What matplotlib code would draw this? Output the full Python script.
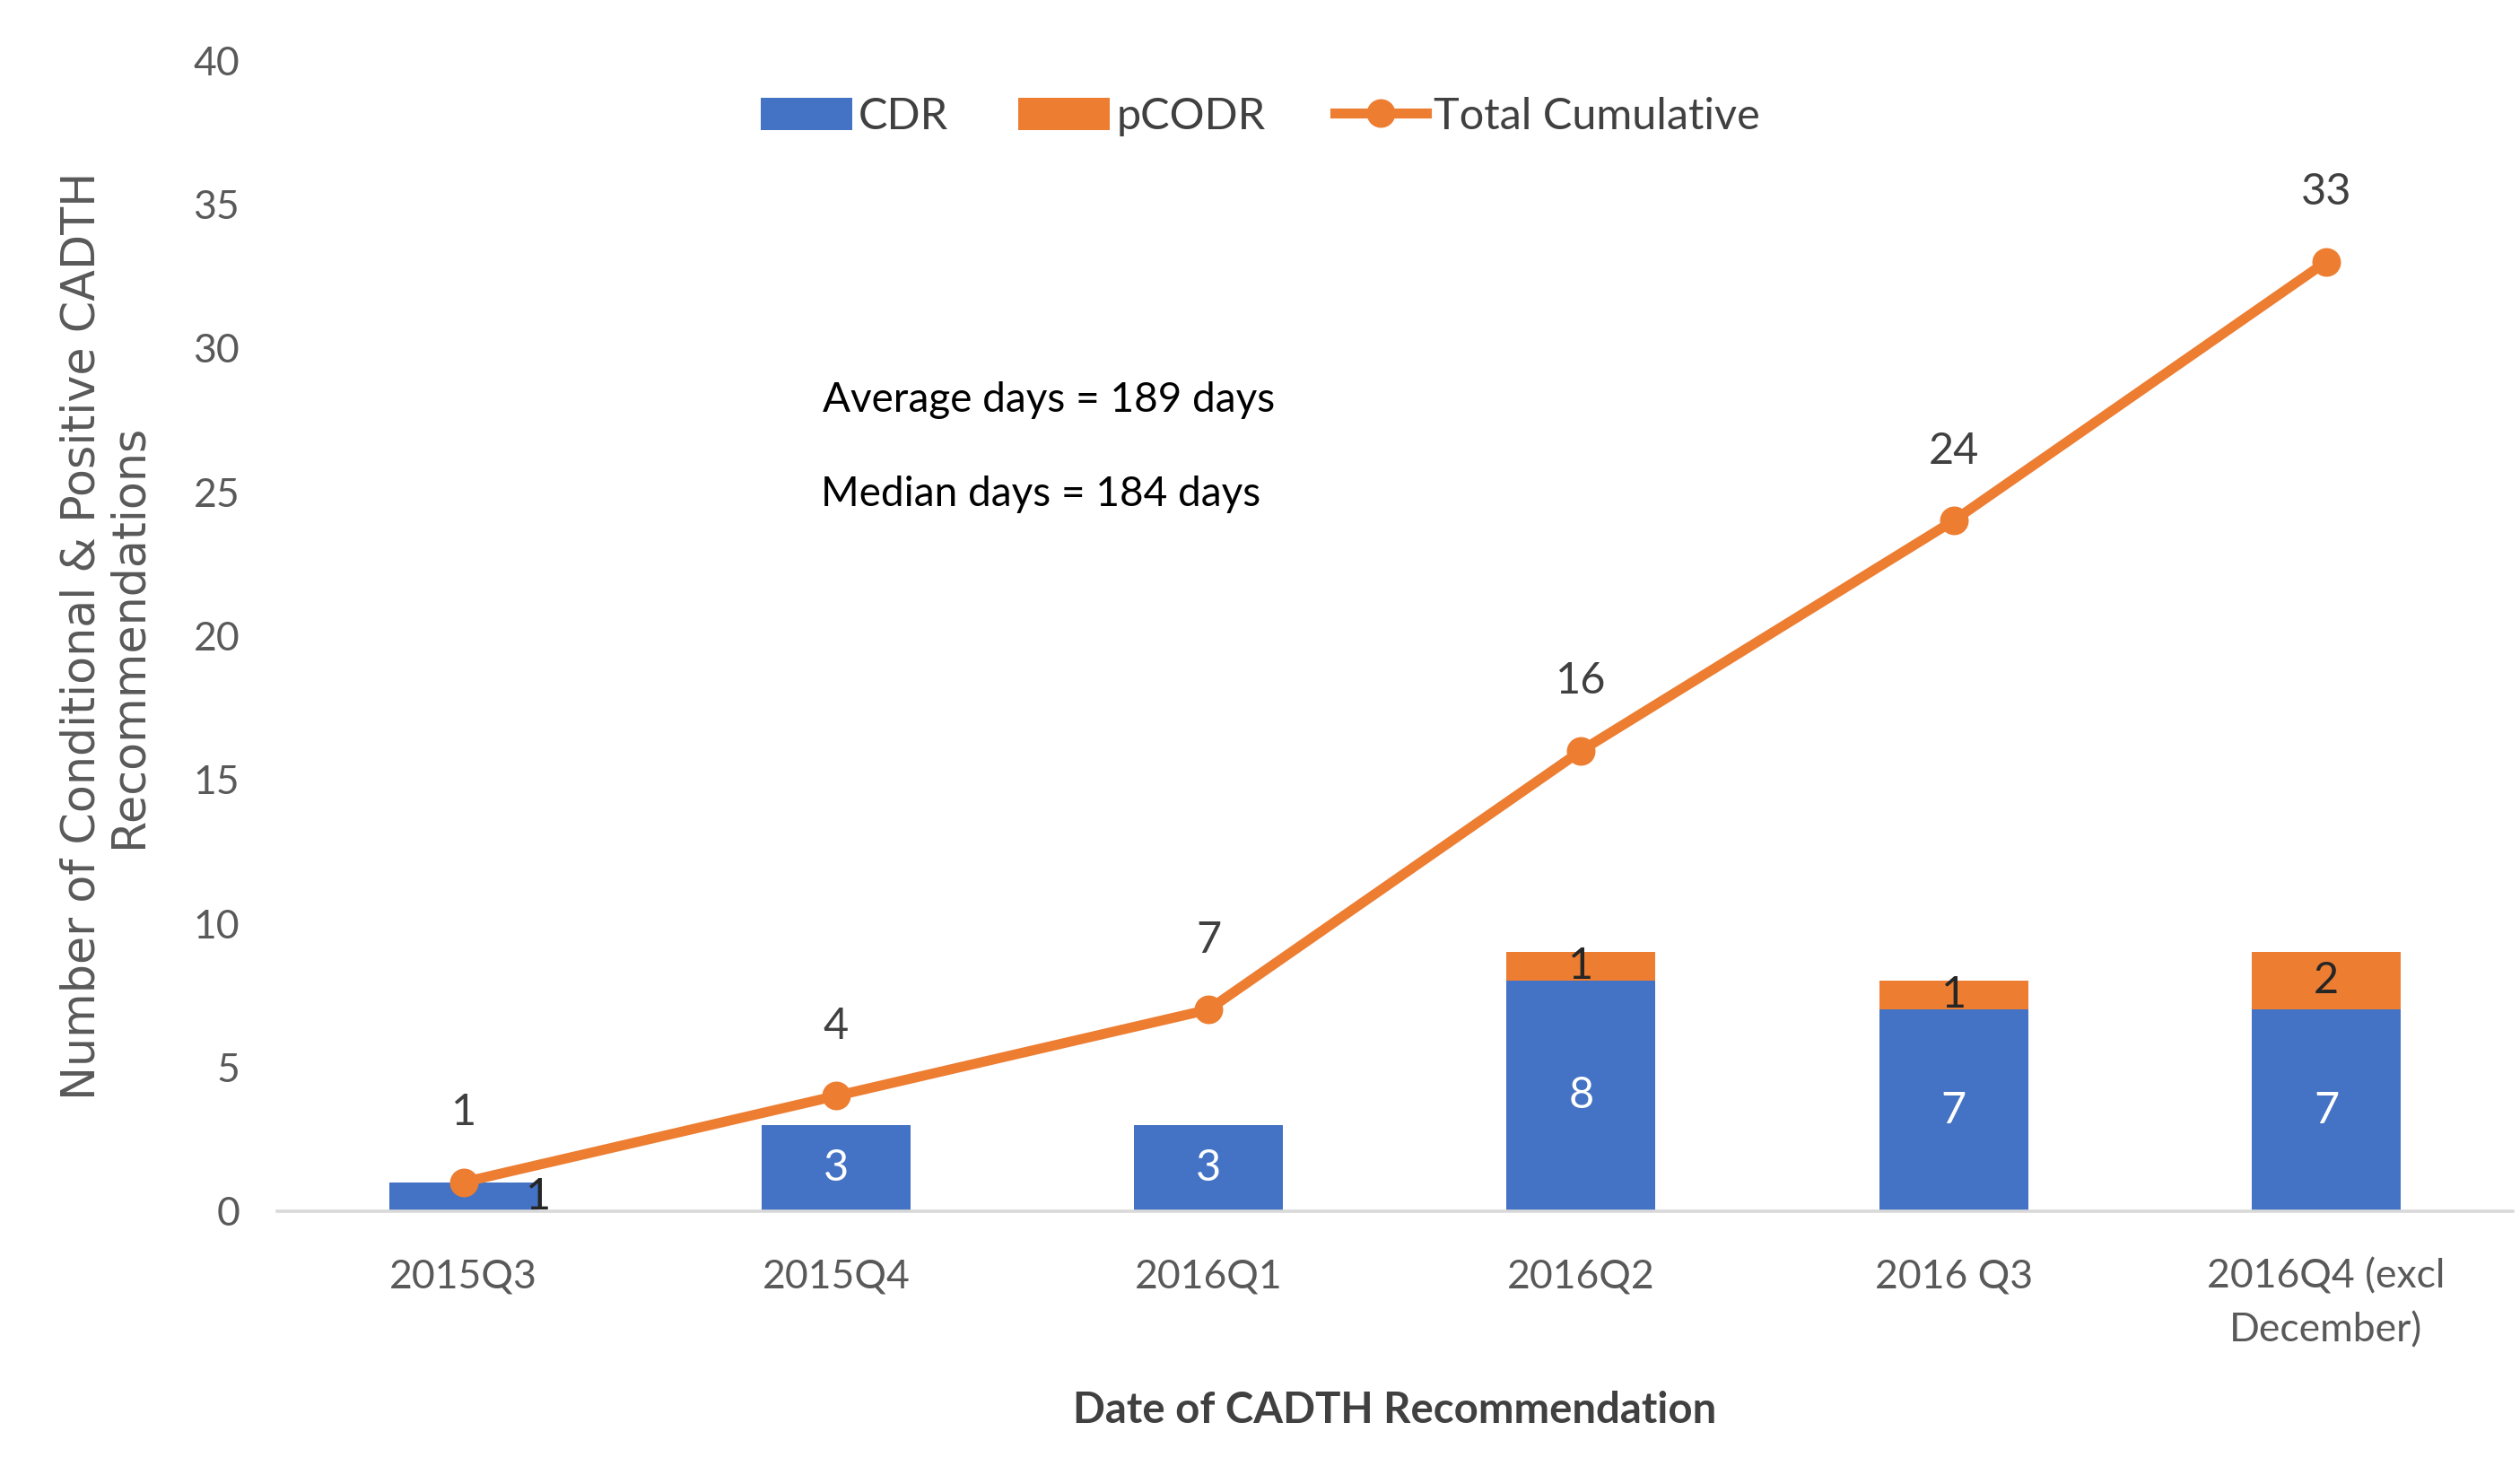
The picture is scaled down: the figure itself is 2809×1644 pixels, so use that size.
import numpy as np
import matplotlib.pyplot as plt

quarters = ['2015Q3', '2015Q4', '2016Q1', '2016Q2', '2016 Q3', '2016Q4 (excl\nDecember)']
cdr = [1, 3, 3, 8, 7, 7]
pcodr = [0, 0, 0, 1, 1, 2]
total_cum = [1, 4, 7, 16, 24, 33]

blue = '#4472C4'
orange = '#ED7D31'
grey = '#595959'
narrow = ['Lato', 'DejaVu Sans']

fig = plt.figure(figsize=(28.09, 16.44), dpi=100)
ax = fig.add_axes([0.110, 0.179, 0.887, 0.780])

x = np.arange(len(quarters))
w = 0.4
b1 = ax.bar(x, cdr, w, color=blue, label='CDR', zorder=2)
b2 = ax.bar(x, pcodr, w, bottom=cdr, color=orange, label='pCODR', zorder=2)
ln, = ax.plot(x, total_cum, color=orange, lw=8, marker='o', ms=22,
              label='Total Cumulative', zorder=3)

# bar labels
for i in range(len(x)):
    if i == 0:
        # this one sits at the bar's right edge in the original
        ax.text(x[i] + w / 2, cdr[i] / 2, str(cdr[i]), ha='center', va='center',
                fontsize=35, color='#262626', family=narrow, zorder=4)
    else:
        ax.text(x[i], cdr[i] / 2, str(cdr[i]), ha='center', va='center',
                fontsize=35, color='white', family=narrow, zorder=4)
    if pcodr[i] > 0:
        ax.text(x[i], cdr[i] + pcodr[i] / 2, str(pcodr[i]), ha='center', va='center',
                fontsize=35, color='#262626', family=narrow, zorder=4)

# line labels
for xi, v in zip(x, total_cum):
    ax.annotate(str(v), (xi, v), xytext=(0, 56), textcoords='offset points',
                ha='center', va='center', fontsize=35, color='#404040', family=narrow)

ax.text(1.57, 28.2, 'Average days = 189 days', ha='center', va='center',
        fontsize=33, color='black', family=narrow)
ax.text(1.55, 24.9, 'Median days = 184 days', ha='center', va='center',
        fontsize=33, color='black', family=narrow)

ax.set_xlim(-0.5, 5.5)
ax.set_ylim(0, 40)
ax.set_yticks(np.arange(0, 41, 5))
ax.set_xticks(x)
ax.set_xticklabels(quarters, linespacing=1.55)
for lab in ax.get_xticklabels() + ax.get_yticklabels():
    lab.set_family(narrow)
    lab.set_fontsize(32)
    lab.set_color(grey)
ax.tick_params(axis='both', length=0)
ax.tick_params(axis='y', pad=30)
ax.tick_params(axis='x', pad=38)

for s in ['top', 'right', 'left']:
    ax.spines[s].set_visible(False)
ax.spines['bottom'].set_color('#D9D9D9')
ax.spines['bottom'].set_linewidth(2.6)

ax.set_xlabel('Date of CADTH Recommendation', fontsize=34, fontweight='bold',
              color='#404040', family=narrow, labelpad=34)
ax.set_ylabel('Number of Conditional & Positive CADTH\nRecommendations', fontsize=36.5,
              color=grey, family='DejaVu Sans', labelpad=34, linespacing=1.05)

fig.legend(handles=[b1, b2, ln], loc='center', bbox_to_anchor=(0.5, 0.921), ncol=3,
           frameon=False, prop={'family': narrow, 'size': 35}, handlelength=2.1,
           handleheight=0.75, columnspacing=1.6, handletextpad=0.15, labelcolor='#404040')

fig.savefig('out.png', dpi=100)
